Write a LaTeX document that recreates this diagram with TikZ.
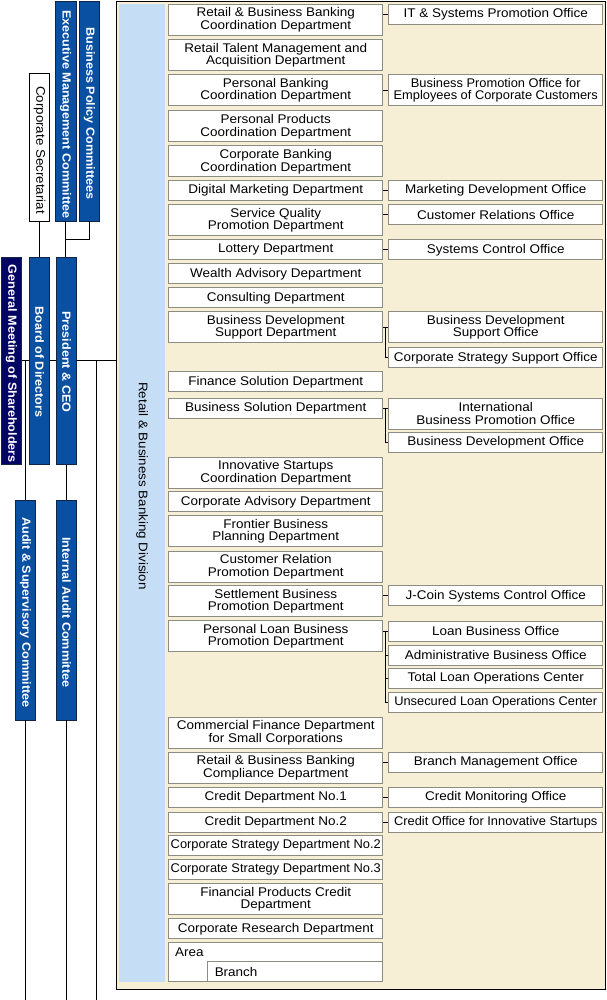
\documentclass[tikz,border=0pt]{standalone}
\usepackage{fontspec}
\setmainfont{Liberation Sans}[FakeStretch=1.07]
\newfontfamily\narrowfont{Liberation Sans}[FakeStretch=1.02]
\definecolor{cream}{RGB}{246,239,214}
\definecolor{divblue}{RGB}{197,222,245}
\definecolor{barblue}{RGB}{10,80,162}
\definecolor{navy}{RGB}{4,4,100}
\definecolor{bardark}{RGB}{20,36,70}
\definecolor{boxgray}{RGB}{140,140,130}
\newcommand\dfont{\fontsize{12.6}{12.7}\selectfont}
\newcommand\bfontx{\fontsize{11.8}{12}\selectfont\bfseries}
\newcommand\vfont{\fontsize{12.5}{13}\selectfont}
\tikzset{
  dept/.style={draw=boxgray, fill=white, line width=0.9pt, anchor=north west,
    minimum width=214pt, inner sep=0pt, align=center, font=\dfont},
  narrow/.style={font=\dfont\narrowfont},
  one/.style={minimum height=20pt},
  two/.style={minimum height=31pt},
  bar/.style={draw=bardark, fill=barblue, line width=0.8pt, inner sep=0pt},
  bartext/.style={rotate=-90, text=white, font=\bfontx, inner sep=0pt},
  link/.style={line width=0.9pt, draw=black},
}
\begin{document}
\begin{tikzpicture}[x=1pt,y=-1pt]
\useasboundingbox (0,0) rectangle (606,1000);
\coordinate (bot) at (0,1000);
\coordinate (jx) at (385.5,0);
% frame
\node[draw=black, fill=cream, line width=1pt, anchor=north west, inner sep=0pt,
  minimum width=489.8pt, minimum height=988pt] (frame) at (115.5,0.8) {};
\node[fill=divblue, anchor=north west, inner sep=0pt, minimum width=46pt,
  minimum height=977.7pt] (div) at (119,4) {};
\node[rotate=-90, font=\vfont, inner sep=0pt] (divT) at (142,486) {Retail \& Business Banking Division};

% left bars
\coordinate (bpcj) at (65.5,239);
\coordinate (vline) at (96.3,360.5);
\node[bar, minimum width=20pt, minimum height=220pt] (bpc) at (89.3,111) {};
\node[bar, minimum width=20.7pt, minimum height=220pt] (exec) at (65.6,111) {};
\node[draw=black, fill=white, line width=0.8pt, inner sep=0pt, minimum width=19.6pt, minimum height=148pt] (corpsec) at (39.5,147) {};
\node[bar, fill=navy, minimum width=20.4pt, minimum height=207pt] (gm) at (11.5,360.8) {};
\node[bar, minimum width=19.6pt, minimum height=207pt] (bod) at (39.5,360.8) {};
\node[bar, minimum width=19.6pt, minimum height=207pt] (pres) at (66.5,360.8) {};
\node[bar, minimum width=20.4pt, minimum height=219.7pt] (asc) at (25.5,610.2) {};
\node[bar, minimum width=19.6pt, minimum height=219.7pt] (iac) at (66.5,610.2) {};

\draw[link] (exec.south) -- (exec.south |- pres.north);
\draw[link] (bpc.south) |- (bpcj);
\draw[link] (corpsec.south) -- (bod.north);
\draw[link] (gm.east) -- (bod.west |- gm.east);
\draw[link] (bod.east |- gm.east) -- (pres.west |- gm.east);
\draw[link] (pres.east |- gm.east) -- (frame.west |- gm.east);
\draw[link] (asc.north |- gm.east) -- (asc.north);
\draw[link] (asc.south) -- (asc.south |- bot);
\draw[link] (pres.south) -- (pres.south |- iac.north);
\draw[link] (iac.south) -- (iac.south |- bot);
\draw[link] (vline) -- (vline |- bot);

\node[bartext] (bpcT) at (89.3,113.5) {Business Policy Committees};
\node[bartext] (execT) at (65.7,114.3) {Executive Management Committee};
\node[rotate=-90, font=\vfont, inner sep=0pt] (corpsecT) at (39.5,150) {Corporate Secretariat};
\node[bartext] (gmT) at (11.5,363.9) {General Meeting of Shareholders};
\node[bartext] (bodT) at (39.5,362) {Board of Directors};
\node[bartext] (presT) at (66.5,362) {President \& CEO};
\node[bartext] (ascT) at (25.5,612.5) {Audit \& Supervisory Committee};
\node[bartext] (iacT) at (66.5,612.3) {Internal Audit Committee};

% left column departments
\node[dept, two] (rbbc) at (168.3,4) {Retail \& Business Banking\\Coordination Department};
\node[dept, two] (talent) at (168.3,39.3) {Retail Talent Management and\\Acquisition Department};
\node[dept, two] (pbc) at (168.3,74.3) {Personal Banking\\Coordination Department};
\node[dept, two] (ppc) at (168.3,110.5) {Personal Products\\Coordination Department};
\node[dept, two] (cbc) at (168.3,145.5) {Corporate Banking\\Coordination Department};
\node[dept, one, minimum height=19.3pt] (dmd) at (168.3,180.5) {Digital Marketing Department};
\node[dept, two] (sqp) at (168.3,204.3) {Service Quality\\Promotion Department};
\node[dept, one] (lot) at (168.3,239.3) {Lottery Department};
\node[dept, one] (wad) at (168.3,263.3) {Wealth Advisory Department};
\node[dept, one] (cons) at (168.3,287.3) {Consulting Department};
\node[dept, two] (bdsd) at (168.3,311.3) {Business Development\\Support Department};
\node[dept, one] (fsd) at (168.3,371.3) {Finance Solution Department};
\node[dept, one] (bsd) at (168.3,397.7) {Business Solution Department};
\node[dept, two] (isc) at (168.3,456.5) {Innovative Startups\\Coordination Department};
\node[dept, one] (cad) at (168.3,491.3) {Corporate Advisory Department};
\node[dept, two] (fbp) at (168.3,515.3) {Frontier Business\\Planning Department};
\node[dept, two] (crp) at (168.3,550.5) {Customer Relation\\Promotion Department};
\node[dept, two] (sbp) at (168.3,585.3) {Settlement Business\\Promotion Department};
\node[dept, two] (plb) at (168.3,620.3) {Personal Loan Business\\Promotion Department};
\node[dept, two] (cfd) at (168.3,716.5) {Commercial Finance Department\\for Small Corporations};
\node[dept, two] (rbbcomp) at (168.3,751.5) {Retail \& Business Banking\\Compliance Department};
\node[dept, one] (cd1) at (168.3,786.5) {Credit Department No.1};
\node[dept, one] (cd2) at (168.3,811.5) {Credit Department No.2};
\node[dept, one, narrow] (csd2) at (168.3,835) {Corporate Strategy Department No.2};
\node[dept, one, narrow] (csd3) at (168.3,859) {Corporate Strategy Department No.3};
\node[dept, two] (fpc) at (168.3,883.3) {Financial Products Credit\\Department};
\node[dept, one] (crd) at (168.3,918.3) {Corporate Research Department};
\node[dept, minimum height=39pt] (area) at (168.3,942.3) {};
\node[anchor=west, font=\dfont, inner sep=0pt] (areaT) at (175,952) {Area};
\node[dept, minimum width=0pt, text width=161pt, inner xsep=7pt, align=left, minimum height=20pt] (branch) at (207.3,961.3) {Branch};

% right column offices
\node[dept, one] (itspo) at (388.3,4) {IT \& Systems Promotion Office};
\node[dept, two, narrow] (bpoe) at (388.3,74.3) {Business Promotion Office for\\Employees of Corporate Customers};
\node[dept, one, minimum height=19.3pt] (mdo) at (388.3,180.5) {Marketing Development Office};
\node[dept, one] (cro) at (388.3,204.3) {Customer Relations Office};
\node[dept, one] (sco) at (388.3,239.3) {Systems Control Office};
\node[dept, two] (bdso) at (388.3,311.3) {Business Development\\Support Office};
\node[dept, one] (csso) at (388.3,347.3) {Corporate Strategy Support Office};
\node[dept, two] (ibpo) at (388.3,397.7) {International\\Business Promotion Office};
\node[dept, one] (bdo) at (388.3,431.8) {Business Development Office};
\node[dept, one] (jcoin) at (388.3,585.3) {J-Coin Systems Control Office};
\node[dept, one] (lbo) at (388.3,620.7) {Loan Business Office};
\node[dept, one] (abo) at (388.3,644.5) {Administrative Business Office};
\node[dept, one] (tloc) at (388.3,668.2) {Total Loan Operations Center};
\node[dept, one, narrow] (uloc) at (388.3,691.9) {Unsecured Loan Operations Center};
\node[dept, one] (bmo) at (388.3,751.5) {Branch Management Office};
\node[dept, one] (cmo) at (388.3,786.5) {Credit Monitoring Office};
\node[dept, one, narrow] (coi) at (388.3,811.5) {Credit Office for Innovative Startups};

% connectors between columns
\draw[link] (itspo.west -| rbbc.east) -- (itspo.west);
\draw[link] (bpoe.west -| pbc.east) -- (bpoe.west);
\draw[link] (mdo.west -| dmd.east) -- (mdo.west);
\draw[link] (cro.west -| sqp.east) -- (cro.west);
\draw[link] (sco.west -| lot.east) -- (sco.west);
\draw[link] (bdso.west -| bdsd.east) -- (bdso.west);
\draw[link] (bdso.west -| jx) |- (csso.west);
\draw[link] (bsd.east) -- (bsd.east -| ibpo.west);
\draw[link] (bsd.east -| jx) |- (bdo.west);
\draw[link] (jcoin.west -| sbp.east) -- (jcoin.west);
\draw[link] (lbo.west -| plb.east) -- (lbo.west);
\draw[link] (lbo.west -| jx) |- (uloc.west);
\draw[link] (abo.west -| jx) -- (abo.west);
\draw[link] (tloc.west -| jx) -- (tloc.west);
\draw[link] (bmo.west -| rbbcomp.east) -- (bmo.west);
\draw[link] (cmo.west -| cd1.east) -- (cmo.west);
\draw[link] (coi.west -| cd2.east) -- (coi.west);
\end{tikzpicture}
\end{document}
